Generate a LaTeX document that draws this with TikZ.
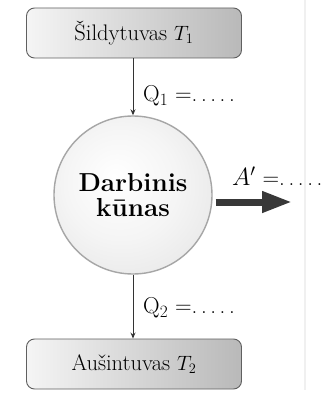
\documentclass[tikz,border=0pt]{standalone}
\usetikzlibrary{arrows.meta,shadings}
\pgfdeclareradialshading{spherebody}{\pgfpoint{-6bp}{6bp}}{%
  color(0bp)=(white); color(18bp)=(gray!8); color(38bp)=(gray!22);
  color(46bp)=(gray!40); color(50bp)=(gray!55)}
\newcommand\fivedots{.\kern3.6pt.\kern3.6pt.\kern3.6pt.\kern3.6pt.}
\begin{document}
\begin{tikzpicture}[x=1pt,y=-1pt,
  box/.style={draw=gray!75!black, line width=0.9pt, rounded corners=8pt,
    left color=gray!8, right color=gray!55, minimum width=215pt, minimum height=50pt,
    inner sep=0pt, font=\fontsize{22.5}{27}\selectfont},
  body/.style={circle, draw=gray!70, line width=1.4pt, minimum size=158pt,
    shading=spherebody,
    align=center, font=\fontsize{26}{25}\selectfont\bfseries},
  flow/.style={draw=black!80, line width=1pt, -{Stealth[length=6pt,width=5pt]}},
  work/.style={draw=black!78, line width=7pt, -{Triangle[length=30pt,width=20pt]}},
  lab/.style={anchor=west, inner sep=0pt, font=\fontsize{23}{27}\selectfont}]
\useasboundingbox (0,0) rectangle (331,393);
\fill[white] (0,0) rectangle (331,393);
\draw[gray!12, line width=1.2pt] (305,0) -- (305,390);
\node[box] (heat) at (134,33) {Šildytuvas $T_1$};
\node[body] (wb) at (133,195) {Darbinis\\kūnas};
\node[box] (cool) at (134,364) {Aušintuvas $T_2$};
\draw[flow] (heat.south -| wb.north) -- (wb.north);
\draw[flow] (wb.south) -- (cool.north -| wb.south);
\coordinate (aend) at (292,202);
\draw[work] ([shift={(3,7)}]wb.east) -- (aend);
\node[lab] (q1) at (143,96) {Q$_1$ =\fivedots};
\node[lab] (q2) at (143,308) {Q$_2$ =\fivedots};
\node[lab] (aw) at (232,176) {$A'$ =\fivedots};
\end{tikzpicture}
\end{document}
